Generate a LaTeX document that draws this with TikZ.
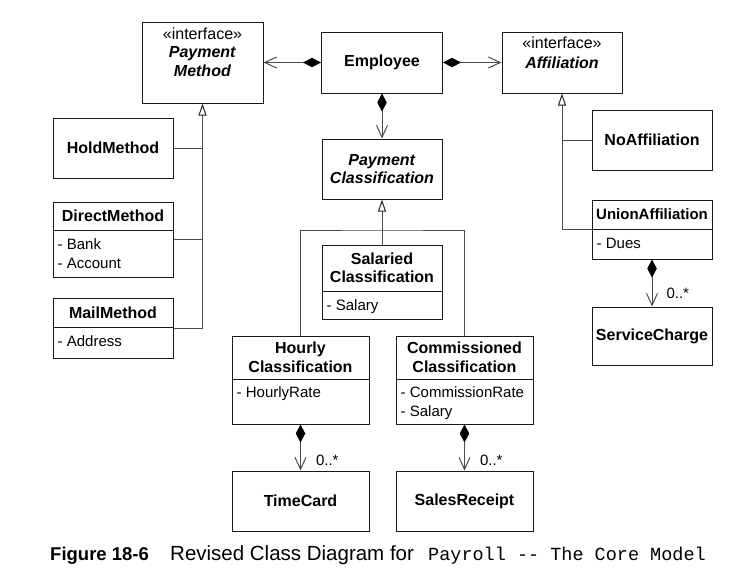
\documentclass[tikz,border=0pt]{standalone}
\usepackage{fontspec}
\setmainfont{Liberation Sans}
\setmonofont{Liberation Mono}
\usetikzlibrary{arrows.meta}

\tikzset{
  classbox/.style={draw=black!90, line width=1pt, inner sep=0pt},
  boxsize/.style 2 args={minimum width=#1pt, minimum height=#2pt},
  classname/.style={inner sep=0pt, align=center, font=\fontsize{16}{18.5}\selectfont\bfseries},
  attr/.style={inner sep=0pt, align=left, anchor=north west, font=\fontsize{15}{18.5}\selectfont},
  divider/.style={draw=black!90, line width=1pt},
  assoc/.style={draw=black!70, line width=1pt},
  comp/.style={assoc, {Diamond[length=18pt,width=9.5pt,black]}-{Straight Barb[length=12pt,width=11pt]}},
  gen/.style={assoc, -{Triangle[open,length=12pt,width=8pt,black!85]}},
  mult/.style={inner sep=0pt, anchor=west, font=\fontsize{15}{18}\selectfont},
}

\begin{document}
\begin{tikzpicture}[x=1pt,y=-1pt]
  \useasboundingbox (0,0) rectangle (735,584);

  % class boxes
  \begin{scope}[every node/.style={classbox}]
    \node[boxsize={121}{81}] (pm) at (202.5,62.5) {};
    \node[boxsize={121}{61}] (emp) at (382,62.5) {};
    \node[boxsize={120}{61}] (aff) at (562,62.5) {};
    \node[boxsize={120}{60}] (hold) at (113,148) {};
    \node[boxsize={120}{75}] (direct) at (113,239.5) {};
    \node[boxsize={120}{60}] (mail) at (113,328) {};
    \node[boxsize={120}{60}] (pc) at (382,169) {};
    \node[boxsize={120}{74}] (sal) at (382,282) {};
    \node[boxsize={137}{88}] (hourly) at (300.5,380) {};
    \node[boxsize={137}{88}] (comm) at (464.5,380) {};
    \node[boxsize={137}{60}] (tc) at (300.5,501) {};
    \node[boxsize={137}{60}] (sr) at (464.5,501) {};
    \node[boxsize={120}{60}] (noaff) at (652,140) {};
    \node[boxsize={120}{59}] (union) at (652,229.5) {};
    \node[boxsize={120}{58}] (sc) at (652,336) {};
  \end{scope}

  % compartments
  \draw[divider] ([yshift=-29pt]direct.north west) -- ([yshift=-29pt]direct.north east);
  \draw[divider] ([yshift=-30pt]mail.north west) -- ([yshift=-30pt]mail.north east);
  \draw[divider] ([yshift=-47pt]sal.north west) -- ([yshift=-47pt]sal.north east);
  \draw[divider] ([yshift=-44pt]hourly.north west) -- ([yshift=-44pt]hourly.north east);
  \draw[divider] ([yshift=-44pt]comm.north west) -- ([yshift=-44pt]comm.north east);
  \draw[divider] ([yshift=-30pt]union.north west) -- ([yshift=-30pt]union.north east);

  % class names
  \begin{scope}[every node/.style={classname}]
    \node[anchor=north] (pmname) at ([yshift=-6pt]pm.north)
      {{\mdseries «interface»}\\\textit{Payment}\\\textit{Method}};
    \node (empname) at (emp) {Employee};
    \node[anchor=north] (affname) at ([yshift=-5pt]aff.north)
      {{\mdseries «interface»}\\[1.5pt]\textit{Affiliation}};
    \node (holdname) at (hold) {HoldMethod};
    \node (directname) at ([yshift=-14.5pt]direct.north) {DirectMethod};
    \node (mailname) at ([yshift=-15pt]mail.north) {MailMethod};
    \node (pcname) at (pc) {\textit{Payment}\\\textit{Classification}};
    \node (salname) at ([yshift=-23.5pt]sal.north) {Salaried\\Classification};
    \node (hourlyname) at ([yshift=-22pt]hourly.north) {Hourly\\Classification};
    \node (commname) at ([yshift=-22pt]comm.north) {Commissioned\\Classification};
    \node (tcname) at (tc) {TimeCard};
    \node (srname) at (sr) {SalesReceipt};
    \node (noaffname) at (noaff) {NoAffiliation};
    \node[font=\fontsize{15}{18}\selectfont\bfseries] (unionname) at ([yshift=-15pt]union.north) {UnionAffiliation};
    \node (scname) at (sc) {ServiceCharge};
  \end{scope}

  % attributes
  \begin{scope}[every node/.style={attr}]
    \node (directattr) at ([xshift=5pt,yshift=-37pt]direct.north west) {- Bank\\- Account};
    \node (mailattr) at ([xshift=5pt,yshift=-38pt]mail.north west) {- Address};
    \node (salattr) at ([xshift=5pt,yshift=-55pt]sal.north west) {- Salary};
    \node (hourlyattr) at ([xshift=5pt,yshift=-51pt]hourly.north west) {- HourlyRate};
    \node (commattr) at ([xshift=5pt,yshift=-51pt]comm.north west) {- CommissionRate\\- Salary};
    \node (unionattr) at ([xshift=5pt,yshift=-38pt]union.north west) {- Dues};
  \end{scope}

  % associations
  \draw[comp] (emp) -- (pm);
  \draw[comp] (emp) -- (aff);
  \draw[comp] (emp) -- (pc);
  \draw[comp] (hourly) -- node[mult, pos=0.77, xshift=15pt] {0..*} (tc);
  \draw[comp] (comm) -- node[mult, pos=0.77, xshift=15pt] {0..*} (sr);
  \draw[comp] (union) -- node[mult, pos=0.71, xshift=14pt] {0..*} (sc);

  % generalizations
  \draw[gen] (mail.east) -| (pm.south);
  \draw[assoc] (hold.east) -- (hold.east -| pm.south);
  \draw[assoc] (direct.east) -- (direct.east -| pm.south);
  \draw[gen] (union.west) -| (aff.south);
  \draw[assoc] (noaff.west) -- (noaff.west -| aff.south);
  \coordinate (fork) at (382,230);
  \draw[gen] (sal) -- (pc);
  \draw[assoc] (hourly.north) |- (fork) -| (comm.north);

  % caption
  \node[anchor=base west, inner sep=0pt, font=\fontsize{18.5}{20}\selectfont\bfseries] (fignum) at (50,560) {Figure 18-6};
  \node[anchor=base west, inner sep=0pt, font=\fontsize{20.5}{22}\selectfont] (figtitle) at (170,560) {Revised Class Diagram for};
  \node[anchor=base west, inner sep=0pt, font=\fontsize{18.5}{20}\selectfont\ttfamily] (figcode) at (428,560) {Payroll -\kern0pt- The Core Model};
\end{tikzpicture}
\end{document}
